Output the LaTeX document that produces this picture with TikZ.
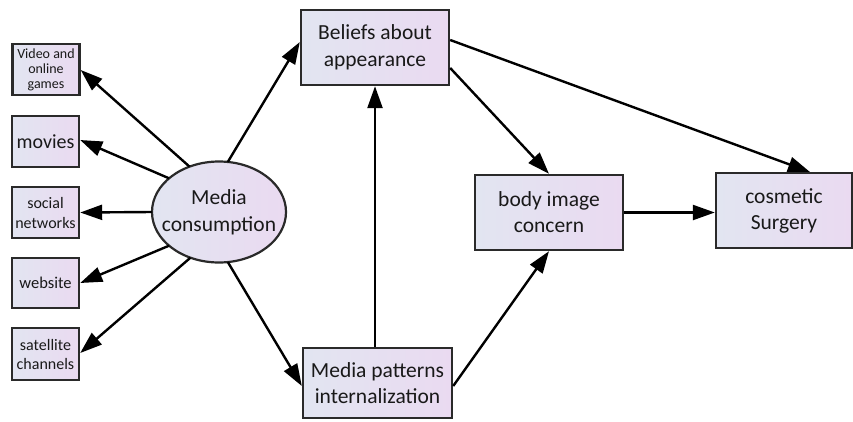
\documentclass[tikz,border=0pt]{standalone}
\usepackage{fontspec}
\setmainfont{Carlito}
\usetikzlibrary{arrows.meta,shapes.geometric}
\definecolor{boxL}{HTML}{E2E5F1}
\definecolor{boxR}{HTML}{EADAF1}
\definecolor{edge}{HTML}{2A2A2A}
\tikzset{
  box/.style={draw=edge, line width=2.4pt, left color=boxL, right color=boxR, align=center, inner sep=0pt, text=black!90},
  oval/.style={ellipse, draw=edge, line width=2.2pt, left color=boxL, right color=boxR, inner sep=0pt, outer sep=0pt},
  lbl/.style={align=center, inner sep=0pt, text=black!90},
  arr/.style={line width=2.4pt, -{Triangle[length=22pt,width=15pt]}},
}
\begin{document}
\begin{tikzpicture}[x=1pt,y=-1pt]
\path[use as bounding box, fill=white] (0,0) rectangle (853,421);
% small boxes
\node[box, minimum width=67pt, minimum height=51pt, font=\fontsize{14}{15}\selectfont] (video) at (46,69.5) {Video and\\online\\games};
\node[box, minimum width=67pt, minimum height=51pt, font=\fontsize{20}{22}\selectfont] (movies) at (45.5,141.5) {movies};
\node[box, minimum width=67pt, minimum height=51pt, font=\fontsize{16}{20}\selectfont] (social) at (45.5,212.5) {social\\networks};
\node[box, minimum width=67pt, minimum height=50pt, font=\fontsize{16.5}{18}\selectfont] (web) at (45.5,283) {website};
\node[box, minimum width=67pt, minimum height=52pt, font=\fontsize{16}{19}\selectfont] (sat) at (45.5,354) {satellite\\channels};
% ellipse
\node[oval, minimum width=134pt, minimum height=101pt] (mc) at (219,212) {};
\node[lbl, font=\fontsize{21.5}{27}\selectfont] (mctext) at (mc.center) {Media\\consumption};
% main boxes
\node[box, minimum width=148pt, minimum height=75pt, font=\fontsize{21.5}{27}\selectfont] (bel) at (375,47.5) {Beliefs about\\appearance};
\node[box, minimum width=149pt, minimum height=70pt, font=\fontsize{21.5}{26}\selectfont] (mpi) at (377.5,383) {Media patterns\\internalization};
\node[box, minimum width=148pt, minimum height=75pt, font=\fontsize{21.5}{26}\selectfont] (bic) at (549,212.5) {body image\\concern};
\node[box, minimum width=136pt, minimum height=75pt, font=\fontsize{21.5}{26}\selectfont] (cs) at (784,210.5) {cosmetic\\Surgery};
\coordinate (csin) at (810,172);
% arrows from ellipse
\draw[arr] (mc.123) -- (video.east |- 0,70);
\draw[arr] (mc.146) -- (movies.east |- 0,140);
\draw[arr] (mc.west) -- (social.east);
\draw[arr] (mc.214) -- (web.east |- 0,283);
\draw[arr] (mc.238) -- (sat.east |- 0,353);
\draw[arr] (mc.80) -- (bel.west |- 0,42);
\draw[arr] (mc.-80) -- (mpi.west |- 0,386);
% main arrows
\draw[arr] (mpi.north -| bel.south) -- (bel.south);
\draw[arr] (bel.east |- 0,68) -- (bic.north);
\draw[arr] (bel.east |- 0,40) -- (csin);
\draw[arr] (mpi.east |- 0,386) -- (bic.south);
\draw[arr] (bic.east) -- (cs.west |- bic.east);
\end{tikzpicture}
\end{document}
